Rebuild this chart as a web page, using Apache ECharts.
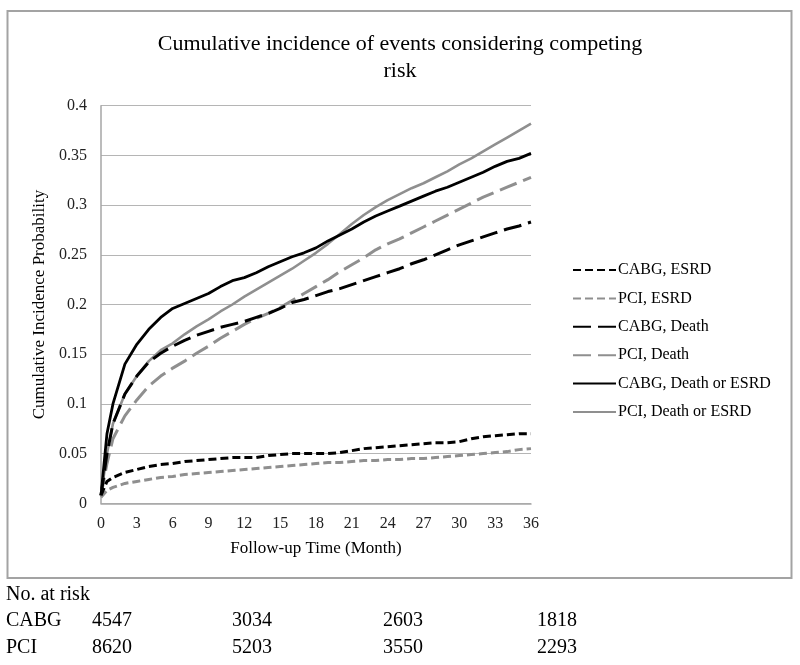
<!DOCTYPE html>
<html>
<head>
<meta charset="utf-8">
<script src="https://cdn.jsdelivr.net/npm/echarts@6/dist/echarts.min.js"></script>
<style>
html,body{margin:0;padding:0;background:#fff;}
#chart{width:800px;height:665px;}
</style>
</head>
<body>
<div id="chart"></div>
<script>
// ---- data ----
const months = [0,0.5,1,2,3,4,5,6,7,8,9,10,11,12,13,14,15,16,17,18,19,20,21,22,23,24,25,26,27,28,29,30,31,32,33,34,35,36];
const seriesNames = ['CABG, ESRD','PCI, ESRD','CABG, Death','PCI, Death','CABG, Death or ESRD','PCI, Death or ESRD'];
const cabgEsrd = [0.008,0.022,0.026,0.031,0.034,0.037,0.039,0.040,0.042,0.043,0.044,0.045,0.046,0.046,0.046,0.048,0.049,0.050,0.050,0.050,0.050,0.051,0.053,0.055,0.056,0.057,0.058,0.059,0.060,0.061,0.061,0.062,0.065,0.067,0.068,0.069,0.070,0.070];
const pciEsrd = [0.006,0.013,0.016,0.020,0.022,0.024,0.026,0.027,0.029,0.030,0.031,0.032,0.033,0.034,0.035,0.036,0.037,0.038,0.039,0.040,0.041,0.041,0.042,0.043,0.043,0.044,0.044,0.045,0.045,0.046,0.047,0.048,0.049,0.050,0.051,0.052,0.054,0.055];
const cabgDeath = [0.008,0.050,0.080,0.110,0.128,0.142,0.151,0.158,0.164,0.169,0.173,0.177,0.180,0.183,0.187,0.191,0.196,0.202,0.205,0.209,0.213,0.216,0.220,0.224,0.228,0.232,0.236,0.241,0.245,0.250,0.255,0.260,0.264,0.268,0.272,0.276,0.279,0.283];
const pciDeath = [0.008,0.040,0.065,0.088,0.104,0.118,0.128,0.136,0.143,0.151,0.158,0.166,0.173,0.180,0.186,0.191,0.197,0.204,0.211,0.218,0.225,0.233,0.240,0.247,0.255,0.261,0.266,0.272,0.278,0.284,0.290,0.296,0.302,0.308,0.313,0.318,0.323,0.328];
const cabgDeathEsrd = [0.008,0.070,0.100,0.140,0.160,0.175,0.187,0.196,0.201,0.206,0.211,0.218,0.224,0.227,0.232,0.238,0.243,0.248,0.252,0.257,0.264,0.270,0.276,0.283,0.289,0.294,0.299,0.304,0.309,0.314,0.318,0.323,0.328,0.333,0.339,0.344,0.347,0.352];
const pciDeathEsrd = [0.008,0.050,0.080,0.110,0.128,0.143,0.154,0.161,0.170,0.178,0.185,0.193,0.200,0.208,0.215,0.222,0.229,0.236,0.244,0.252,0.261,0.271,0.281,0.290,0.298,0.305,0.311,0.317,0.322,0.328,0.334,0.341,0.347,0.354,0.361,0.368,0.375,0.382];
const xTicks = [0,3,6,9,12,15,18,21,24,27,30,33,36];
const yTicks = [0,0.05,0.1,0.15,0.2,0.25,0.3,0.35,0.4];
const riskHeader = 'No. at risk';
const riskGroups = ['CABG','PCI'];
const riskCABG = [4547,3034,2603,1818];
const riskPCI = [8620,5203,3550,2293];

// ---- layout / style ----
const FONT = '"Liberation Serif","Times New Roman",serif';
const BLACK = '#000000';
const GRAY = '#8f8f8f';
const riskColX = [92,232,383,537];
const riskRowY = [621,648];

const allValues = [cabgEsrd,pciEsrd,cabgDeath,pciDeath,cabgDeathEsrd,pciDeathEsrd];
const colors = [BLACK,GRAY,BLACK,GRAY,BLACK,GRAY];
const dashes = [[8,4],[8,4],[18,7],[18,7],'solid','solid'];
const widths = [3,3,3,3,2.8,2.6];

const series = seriesNames.map((name,i)=>({
  name: name,
  type: 'line',
  symbol: 'none',
  showSymbol: false,
  smooth: false,
  data: months.map((m,j)=>[m, allValues[i][j]]),
  lineStyle: {color: colors[i], width: widths[i], type: dashes[i], cap: 'butt'},
  itemStyle: {color: colors[i]},
  emphasis: {disabled: true},
  z: 10 - i
}));

const graphics = [
  {type:'rect', shape:{x:7.5,y:11,width:784,height:567}, style:{fill:null, stroke:'#a3a3a3', lineWidth:2}, silent:true},
  {type:'text', left:6, top:595-10, style:{text:riskHeader, font:'20px '+FONT, fill:'#000'}}
];
riskGroups.forEach((g,r)=>{
  graphics.push({type:'text', left:6, top:riskRowY[r]-10, style:{text:g, font:'20px '+FONT, fill:'#000'}});
  const vals = r===0 ? riskCABG : riskPCI;
  vals.forEach((v,c)=>{
    graphics.push({type:'text', left:riskColX[c], top:riskRowY[r]-10, style:{text:String(v), font:'20px '+FONT, fill:'#000'}});
  });
});

const chart = echarts.init(document.getElementById('chart'), null, {renderer:'canvas'});
chart.setOption({
  animation: false,
  backgroundColor: '#ffffff',
  textStyle: {fontFamily: FONT},
  title: {
    text: 'Cumulative incidence of events considering competing\nrisk',
    left: 'center',
    top: 31,
    padding: 0,
    textStyle: {fontFamily: FONT, fontSize: 22, fontWeight: 'normal', color: '#000', lineHeight: 27}
  },
  legend: {
    orient: 'vertical',
    left: 567,
    top: 257,
    itemWidth: 43,
    itemHeight: 14,
    itemGap: 12.4,
    data: seriesNames,
    itemStyle: {opacity: 0},
    textStyle: {fontFamily: FONT, fontSize: 16, color: '#000', lineHeight: 16, padding: [0,0,0,-3]},
    selectedMode: false
  },
  grid: {left: 101, right: 269, top: 105.7, bottom: 161.7, containLabel: false},
  xAxis: {
    type: 'value',
    min: 0, max: 36, interval: 3,
    name: 'Follow-up Time (Month)',
    nameLocation: 'middle',
    nameGap: 37,
    nameTextStyle: {fontFamily: FONT, fontSize: 17, color: '#000'},
    axisLine: {show: true, lineStyle: {color: '#a6a6a6', width: 1.5}},
    axisTick: {show: false},
    splitLine: {show: false},
    axisLabel: {fontFamily: FONT, fontSize: 16, color: '#222', margin: 12,
      formatter: v => xTicks.includes(v) ? String(v) : ''}
  },
  yAxis: {
    type: 'value',
    min: 0, max: 0.4, interval: 0.05,
    name: 'Cumulative Incidence Probability',
    nameLocation: 'middle',
    nameGap: 52,
    nameTextStyle: {fontFamily: FONT, fontSize: 17, color: '#000'},
    axisLine: {show: true, lineStyle: {color: '#a6a6a6', width: 1.5}},
    axisTick: {show: false},
    splitLine: {show: true, lineStyle: {color: '#b5b5b5', width: 1.2}},
    axisLabel: {fontFamily: FONT, fontSize: 16, color: '#222', margin: 14,
      formatter: v => { const t = yTicks.find(k => Math.abs(k - v) < 1e-9); return t === undefined ? '' : String(t); }}
  },
  graphic: graphics,
  series: series
});
</script>
</body>
</html>
